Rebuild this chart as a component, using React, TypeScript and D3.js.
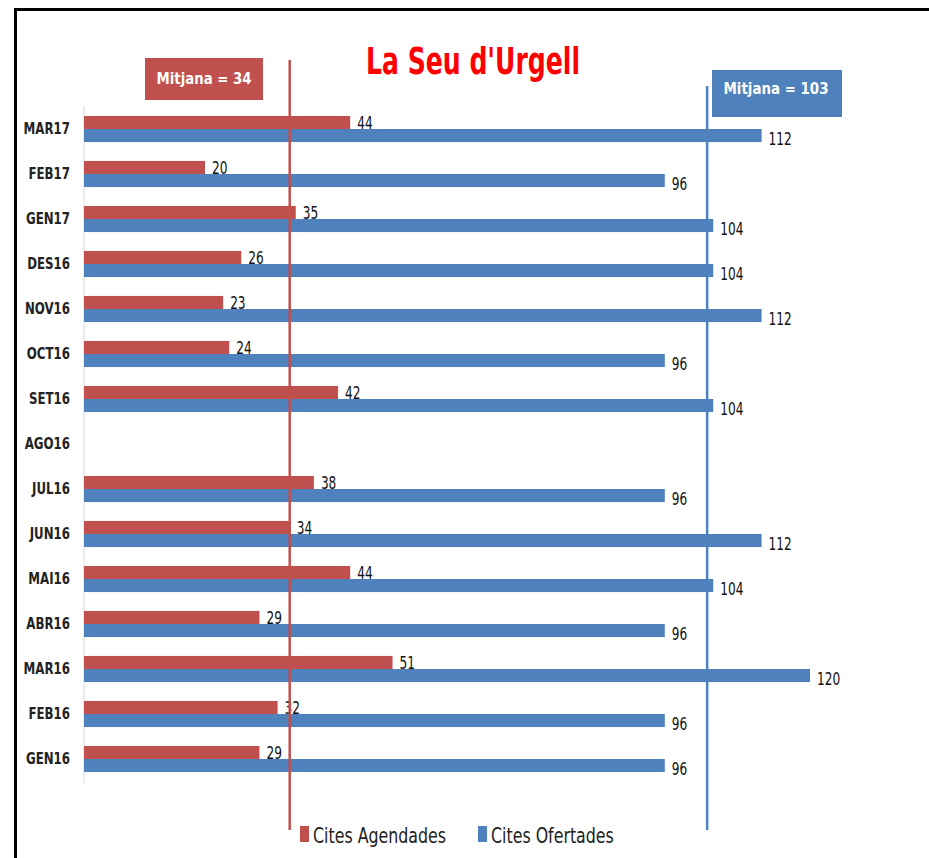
import React from "react";
import * as d3 from "d3";

// months, newest first (as in the chart)
const months = ["MAR17", "FEB17", "GEN17", "DES16", "NOV16", "OCT16", "SET16", "AGO16", "JUL16", "JUN16", "MAI16", "ABR16", "MAR16", "FEB16", "GEN16"];
const agendades = [44, 20, 35, 26, 23, 24, 42, null, 38, 34, 44, 29, 51, 32, 29];
const ofertades = [112, 96, 104, 104, 112, 96, 104, null, 96, 112, 104, 96, 120, 96, 96];
const seriesNames = ["Cites Agendades", "Cites Ofertades"];
const means = [34, 103];
const title = "La Seu d'Urgell";

const RED = "#C0504D";
const BLUE = "#4F81BD";
const FONT = "'Liberation Sans Narrow', 'DejaVu Sans Condensed', 'Open Sans', sans-serif";

const W = 929;
const H = 858;

// text squeezed horizontally, like the narrow font of the original
const Narrow = ({ x, y, sx, children, ...rest }: any) => (
  <text transform={`translate(${x},${y}) scale(${sx},1)`} {...rest}>
    {children}
  </text>
);

export default function App() {
  const x = d3.scaleLinear().domain([0, 120]).range([84, 810]);
  const y = d3.scaleBand<string>().domain(months).range([106.5, 781.5]).paddingInner(0.42).paddingOuter(0.21);
  const sub = d3.scaleBand<number>().domain([0, 1]).range([0, y.bandwidth()]);
  const series = [agendades, ofertades];
  const colors = [RED, BLUE];

  return (
    <svg width={W} height={H} style={{ position: "absolute", left: 0, top: 0, background: "#fff" }} fontFamily={FONT}>
      {/* frame */}
      <path d={`M15.5,${H} V9.5 H${W}`} fill="none" stroke="#000" strokeWidth={3} />

      <text x={473} y={74} textAnchor="middle" fill="#FF0000" fontWeight="bold" fontSize={38} textLength={214} lengthAdjust="spacingAndGlyphs">
        {title}
      </text>

      {/* axis */}
      <line x1={x(0)} x2={x(0)} y1={106} y2={783} stroke="#d9d9d9" strokeWidth={1} />

      {months.map((m) => (
        <Narrow key={m} x={70} y={(y(m) ?? 0) + y.bandwidth() / 2 + 5} sx={0.82} textAnchor="end" fontSize={16} fontWeight="bold" fill="#222">
          {m}
        </Narrow>
      ))}

      {series.map((vals, si) => (
        <g key={si}>
          {vals.map((v, i) => {
            if (v == null) return null;
            const y0 = (y(months[i]) ?? 0) + (sub(si) ?? 0);
            return (
              <g key={i}>
                <rect x={x(0)} y={y0} width={x(v) - x(0)} height={sub.bandwidth()} fill={colors[si]} />
                <Narrow x={x(v) + 7} y={y0 + sub.bandwidth() + (si === 0 ? 0 : 3)} sx={0.75} fontSize={18} fill="#111">
                  {v}
                </Narrow>
              </g>
            );
          })}
        </g>
      ))}

      {/* mean lines */}
      <line x1={x(means[0])} x2={x(means[0])} y1={60} y2={830} stroke={RED} strokeWidth={2.5} />
      <line x1={x(means[1])} x2={x(means[1])} y1={86} y2={830} stroke={BLUE} strokeWidth={2.5} />

      {/* mean labels */}
      <rect x={145} y={58} width={118} height={42} fill={RED} />
      <text x={204} y={84} textAnchor="middle" fill="#fff" fontWeight="bold" fontSize={16} textLength={95} lengthAdjust="spacingAndGlyphs">
        {`Mitjana = ${means[0]}`}
      </text>
      <rect x={712} y={70} width={130} height={47} fill={BLUE} />
      <text x={776} y={94} textAnchor="middle" fill="#fff" fontWeight="bold" fontSize={16} textLength={105} lengthAdjust="spacingAndGlyphs">
        {`Mitjana = ${means[1]}`}
      </text>

      {/* legend */}
      {seriesNames.map((s, i) => {
        const lx = i === 0 ? 300 : 478;
        return (
          <g key={s}>
            <rect x={lx} y={826} width={9} height={16} fill={colors[i]} />
            <Narrow x={lx + 13} y={843} sx={0.8} fontSize={22} fill="#222">
              {s}
            </Narrow>
          </g>
        );
      })}
    </svg>
  );
}
